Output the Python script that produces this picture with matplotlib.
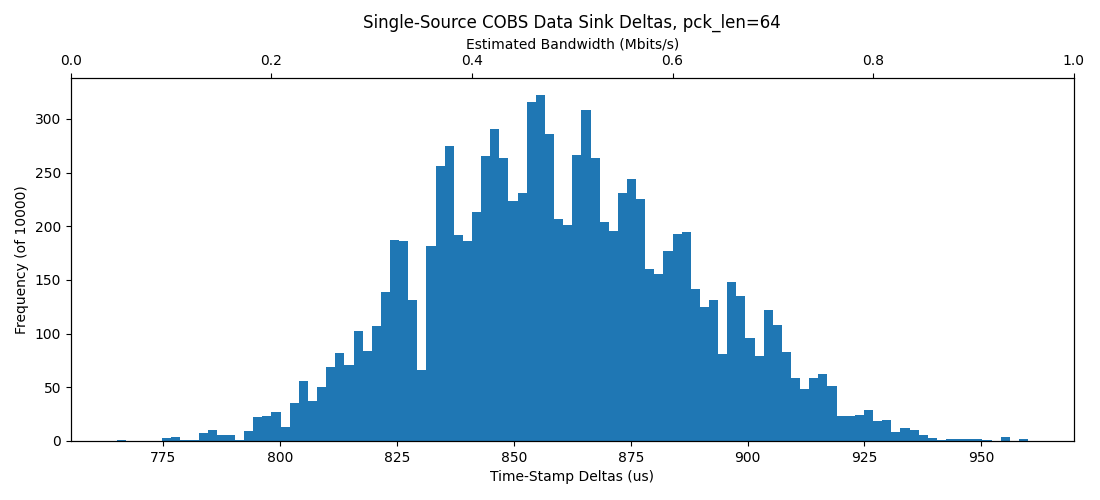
import numpy as np
import matplotlib
matplotlib.use("Agg")
import matplotlib.pyplot as plt

bin_start = 765.0
bin_stop = 960.0
counts = [1,0,0,0,0,3,4,1,1,7,10,6,6,1,9,22,23,27,13,35,
          56,37,50,69,82,71,102,84,107,139,187,186,131,66,182,256,275,192,186,213,
          265,291,264,224,231,316,322,286,207,201,266,308,264,204,196,231,244,225,160,156,
          177,193,195,142,125,131,81,148,135,96,79,122,108,83,59,48,59,62,51,23,
          23,24,29,19,20,8,12,10,6,3,1,2,2,2,2,1,0,4,0,2]

edges = np.linspace(bin_start, bin_stop, len(counts) + 1)
centers = (edges[:-1] + edges[1:]) / 2

fig = plt.figure(figsize=(11, 5), dpi=100)
ax = fig.add_axes([0.0645, 0.118, 0.9115, 0.726])
ax.hist(centers, bins=edges, weights=counts, color="#1f77b4")
ax.set_xlabel("Time-Stamp Deltas (us)")
ax.set_ylabel("Frequency (of 10000)")
ax2 = ax.twiny()
ax2.set_xlim(0, 1)
ax2.set_xlabel("Estimated Bandwidth (Mbits/s)")
ax.set_title("Single-Source COBS Data Sink Deltas, pck_len=64", pad=36)
fig.savefig("out.png")
